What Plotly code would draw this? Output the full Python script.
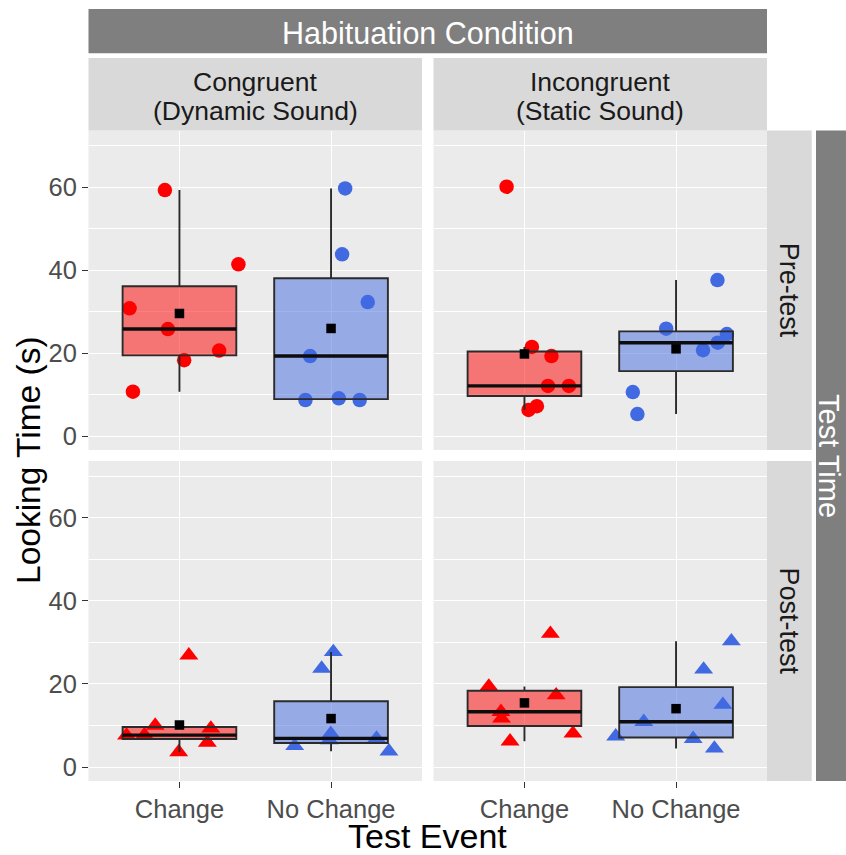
import numpy as np
import plotly.graph_objects as go

# ---- data -------------------------------------------------------------
events = ["Change", "No Change"]
conditions = ["Congruent", "Incongruent"]
condition_notes = ["(Dynamic Sound)", "(Static Sound)"]
test_times = ["Pre-test", "Post-test"]

# looking times (s), one value per infant
cong_pre_change = [59.3, 41.4, 30.8, 25.8, 20.6, 18.3, 10.7]
cong_pre_nochange = [59.7, 43.8, 32.3, 19.3, 8.7, 9.1, 8.7]
incong_pre_change = [60.1, 21.5, 19.3, 12.1, 12.1, 6.3, 7.2]
incong_pre_nochange = [37.6, 25.9, 24.6, 22.5, 20.7, 10.6, 5.3]
cong_post_change = [26.9, 10.0, 9.3, 7.6, 7.7, 5.9, 3.6]
cong_post_nochange = [27.7, 23.7, 8.0, 6.5, 5.1, 6.9, 3.8]
incong_post_change = [32.1, 19.4, 17.3, 13.3, 11.7, 8.1, 6.2]
incong_post_nochange = [30.3, 23.5, 15.0, 10.9, 7.4, 6.8, 4.5]

# horizontal jitter of the individual points (category units)
jit_cong_pre_change = [-0.096, 0.389, -0.329, -0.076, 0.262, 0.031, -0.307]
jit_cong_pre_nochange = [0.093, 0.073, 0.242, -0.138, -0.169, 0.051, 0.189]
jit_incong_pre_change = [-0.118, 0.049, 0.178, 0.155, 0.293, 0.027, 0.082]
jit_incong_pre_nochange = [0.273, -0.065, 0.335, 0.275, 0.178, -0.285, -0.255]
jit_cong_post_change = [0.062, -0.16, 0.207, -0.349, -0.231, 0.184, -0.005]
jit_cong_post_nochange = [0.015, -0.062, -0.002, -0.011, -0.24, 0.30, 0.382]
jit_incong_post_change = [0.171, -0.235, 0.209, -0.155, -0.151, 0.32, -0.095]
jit_incong_post_nochange = [0.365, 0.182, 0.309, -0.213, -0.398, 0.113, 0.253]

# panel order: (row = test time, col = condition)
panels = {
    (0, 0): [(cong_pre_change, jit_cong_pre_change), (cong_pre_nochange, jit_cong_pre_nochange)],
    (0, 1): [(incong_pre_change, jit_incong_pre_change), (incong_pre_nochange, jit_incong_pre_nochange)],
    (1, 0): [(cong_post_change, jit_cong_post_change), (cong_post_nochange, jit_cong_post_nochange)],
    (1, 1): [(incong_post_change, jit_incong_post_change), (incong_post_nochange, jit_incong_post_nochange)],
}

# ---- styling ----------------------------------------------------------
W, H = 846, 855
FONT = "Liberation Sans, Arial, sans-serif"
POINT_COLORS = ["#FF0000", "#4169E1"]
BOX_FILLS = ["rgba(255,0,0,0.5)", "rgba(65,105,225,0.5)"]
SYMBOLS = ["circle", "triangle-up"]
SIZES = [14.5, 16.5]
BOX_WIDTH = 0.75

col_px = [(88.5, 422.0), (433.5, 767.0)]
row_px = [(130.5, 450.0), (461.0, 781.0)]
x_range = [0.4, 2.6]
y_range = [-3.35, 73.65]


def fx(v):
    return v / W


def fy(v):
    return 1 - v / H


def ax_id(n):
    return ("x" if n == 1 else f"x{n}"), ("y" if n == 1 else f"y{n}")


fig = go.Figure()
layout_axes = {}

for (r, c), groups in panels.items():
    n = r * 2 + c + 1          # base subplot (points)
    m = n + 4                  # overlay subplot (boxes + means)
    bx, by = ax_id(n)
    ox, oy = ax_id(m)

    for k, (vals, jit) in enumerate(groups):
        pos = k + 1
        vals = np.asarray(vals, dtype=float)
        # jittered observations underneath the boxes
        fig.add_trace(go.Scatter(
            x=pos + np.asarray(jit), y=vals, mode="markers",
            marker=dict(symbol=SYMBOLS[r], size=SIZES[r], color=POINT_COLORS[k]),
            xaxis=bx, yaxis=by, hoverinfo="y", showlegend=False))
        # box and whiskers (Tukey 1.5 IQR)
        fig.add_trace(go.Box(
            x=[pos] * len(vals), y=vals, width=BOX_WIDTH,
            boxpoints="outliers", quartilemethod="inclusive",
            marker=dict(opacity=0, size=1),
            fillcolor=BOX_FILLS[k], line=dict(color="#2B2B2B", width=1.9),
            whiskerwidth=0, xaxis=ox, yaxis=oy, hoverinfo="skip", showlegend=False))
        # thicker median bar
        med = float(np.median(vals))
        fig.add_trace(go.Box(
            x=[pos], q1=[med], median=[med], q3=[med],
            lowerfence=[med], upperfence=[med], width=BOX_WIDTH,
            fillcolor="rgba(0,0,0,0)", line=dict(color="#0D0D0D", width=3.4),
            whiskerwidth=0, xaxis=ox, yaxis=oy, hoverinfo="skip", showlegend=False))
        # group mean
        fig.add_trace(go.Scatter(
            x=[pos], y=[float(np.mean(vals))], mode="markers",
            marker=dict(symbol="square", size=9.5, color="black"),
            xaxis=ox, yaxis=oy, hoverinfo="y", showlegend=False))

    xdom = [fx(col_px[c][0]), fx(col_px[c][1])]
    ydom = [fy(row_px[r][1]), fy(row_px[r][0])]
    bottom = r == 1
    left = c == 0
    tickfont = dict(family=FONT, size=25.5, color="#4D4D4D")

    layout_axes["xaxis" if n == 1 else f"xaxis{n}"] = dict(
        domain=xdom, range=x_range, anchor=by, tickmode="array",
        tickvals=[1, 2], ticktext=events, showticklabels=bottom,
        ticks="outside" if bottom else "", ticklen=5.5, tickwidth=1.2,
        tickcolor="#333333", tickfont=tickfont,
        showgrid=True, gridcolor="white", gridwidth=1.4,
        zeroline=False, showline=False, fixedrange=True, automargin=False)
    layout_axes["yaxis" if n == 1 else f"yaxis{n}"] = dict(
        domain=ydom, range=y_range, anchor=bx, tick0=0, dtick=20,
        showticklabels=left, ticks="outside" if left else "", ticklen=5.5,
        tickwidth=1.2, tickcolor="#333333", tickfont=tickfont,
        showgrid=True, gridcolor="white", gridwidth=1.4,
        minor=dict(dtick=10, tick0=0, showgrid=True, gridcolor="white",
                   gridwidth=0.8, ticks=""),
        zeroline=False, showline=False, fixedrange=True, automargin=False)
    layout_axes[f"xaxis{m}"] = dict(
        overlaying=bx, anchor=oy, range=x_range, visible=False,
        showgrid=False, zeroline=False, fixedrange=True)
    layout_axes[f"yaxis{m}"] = dict(
        overlaying=by, anchor=ox, range=y_range, visible=False,
        showgrid=False, zeroline=False, fixedrange=True)

# ---- facet strips -----------------------------------------------------
shapes = []
annotations = []


def rect(x0, y0, x1, y1, color):
    shapes.append(dict(type="rect", xref="paper", yref="paper",
                       x0=fx(x0), x1=fx(x1), y0=fy(y1), y1=fy(y0),
                       fillcolor=color, line=dict(width=0), layer="below"))


def label(text, x, y, size, color, angle=0):
    annotations.append(dict(text=text, xref="paper", yref="paper",
                            x=fx(x), y=fy(y), xanchor="center", yanchor="middle",
                            showarrow=False, textangle=angle,
                            font=dict(family=FONT, size=size, color=color)))


# outer column strip
rect(88.5, 9.0, 767.0, 53.3, "#7F7F7F")
label("Habituation Condition", (88.5 + 767.0) / 2, 33.0, 30.5, "white")

# condition strips
for c in range(2):
    x0, x1 = col_px[c]
    rect(x0, 58.0, x1, 130.5, "#D9D9D9")
    label(conditions[c], (x0 + x1) / 2, 81.7, 26.5, "#1A1A1A")
    label(condition_notes[c], (x0 + x1) / 2, 111.3, 26.5, "#1A1A1A")

# test-time strips
for r in range(2):
    y0, y1 = row_px[r]
    rect(767.0, y0, 811.7, y1, "#D9D9D9")
    label(test_times[r], 788.5, (y0 + y1) / 2, 27, "#1A1A1A", angle=90)

# outer row strip
rect(816.0, 130.5, 880.0, 781.0, "#7F7F7F")
label("Test Time", 829.0, 456.0, 29, "white", angle=90)

# axis titles
label("Looking Time (s)", 28.0, 460.0, 33.5, "black", angle=-90)
label("Test Event", (88.5 + 767.0) / 2, 836.0, 34, "black")

fig.update_layout(
    width=W, height=H, autosize=False,
    margin=dict(l=0, r=0, t=0, b=0),
    paper_bgcolor="white", plot_bgcolor="#EBEBEB",
    showlegend=False, boxmode="overlay",
    font=dict(family=FONT),
    shapes=shapes, annotations=annotations,
    **layout_axes)

fig.write_html("out.html")
